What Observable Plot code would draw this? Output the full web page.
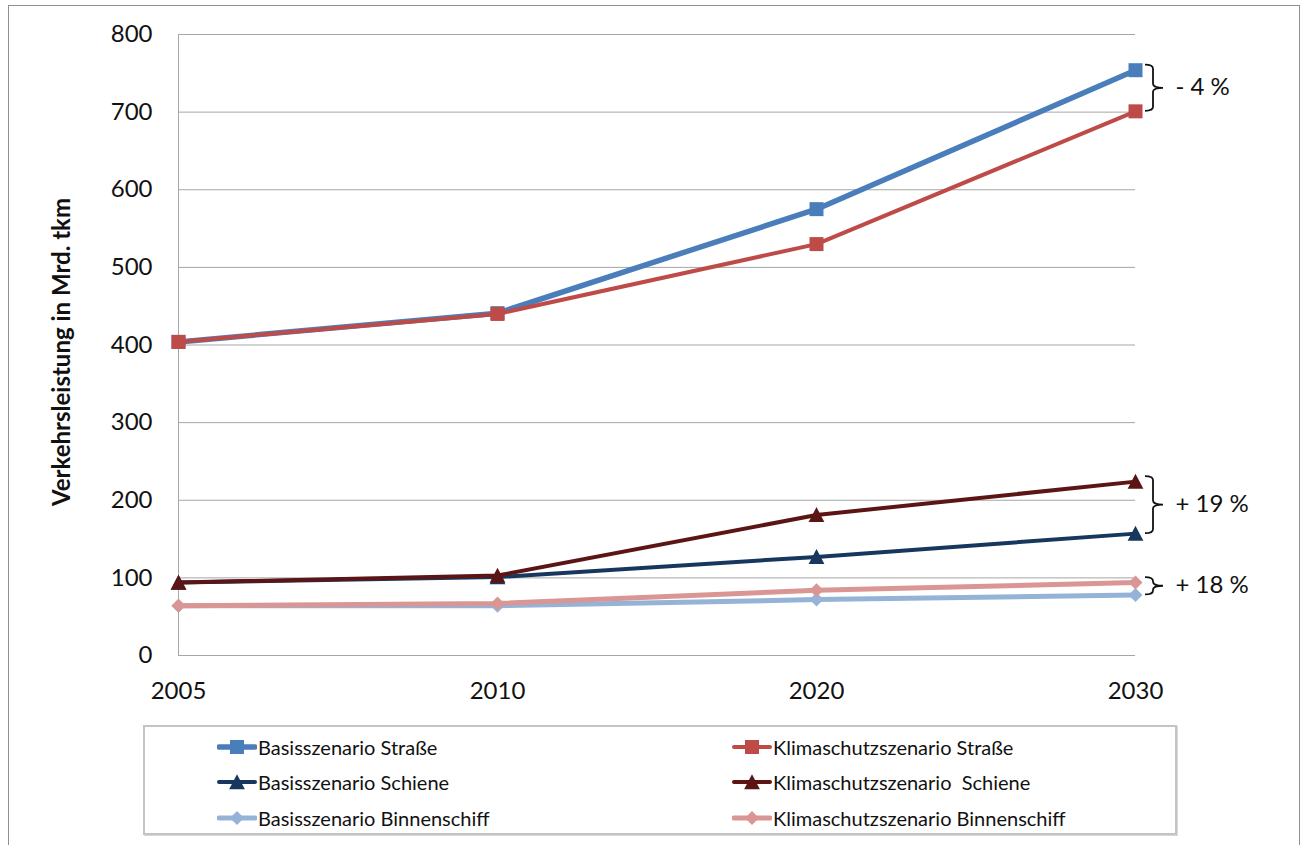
<!DOCTYPE html>
<html>
<head>
<meta charset="utf-8">
<script src="https://cdn.jsdelivr.net/npm/d3@7"></script>
<script src="https://cdn.jsdelivr.net/npm/@observablehq/plot@0.6"></script>
<style>
  html, body { margin: 0; padding: 0; background: #fff; }
  body { width: 1302px; height: 845px; position: relative; overflow: hidden; font-family: Lato, "Open Sans", sans-serif; }
  #frame { position: absolute; left: 8px; top: 5px; width: 1292px; height: 900px; border: 1.5px solid #8f8f8f; box-sizing: border-box; }
  #chart { position: absolute; left: 0; top: 0; }
  #ylabel { position: absolute; left: 60px; top: 352px; transform: translate(-50%, -50%) rotate(-90deg); font-weight: bold; font-size: 24px; color: #111; white-space: nowrap; }
  #legend { position: absolute; left: 143px; top: 725px; width: 1034px; height: 110px; border: 2px solid #c4c4c4; box-sizing: border-box; box-shadow: 1px 1px 0 #d8d8d8; background: #fff; }
  .item { position: absolute; display: flex; align-items: center; font-size: 20px; color: #111; white-space: pre; height: 24px; }
  .item svg { display: block; margin-right: 1px; }
</style>
</head>
<body>
<div id="frame"></div>
<div id="chart"></div>
<div id="ylabel"></div>
<div id="legend"></div>
<script>
// ---- data ----
const years = ["2005", "2010", "2020", "2030"];
const yTicks = [0, 100, 200, 300, 400, 500, 600, 700, 800];
const basisStrasse = [404, 441, 575, 754];
const klimaStrasse = [404, 440, 530, 701];
const basisSchiene = [94, 101, 127, 157];
const klimaSchiene = [94, 103, 181, 224];
const basisBinnen = [64, 64, 72, 78];
const klimaBinnen = [64, 67, 84, 94];
const seriesNames = ["Basisszenario Straße", "Klimaschutzszenario Straße", "Basisszenario Schiene", "Klimaschutzszenario  Schiene", "Basisszenario Binnenschiff", "Klimaschutzszenario Binnenschiff"];
const annotationLabels = ["- 4 %", "+ 19 %", "+ 18 %"];
const yLabel = "Verkehrsleistung in Mrd. tkm";

// ---- symbols ----
const sym = {
  square: { draw(ctx, size) { const h = Math.sqrt(size / Math.PI); ctx.moveTo(-h, -h); ctx.lineTo(h, -h); ctx.lineTo(h, h); ctx.lineTo(-h, h); ctx.closePath(); } },
  triangle: { draw(ctx, size) { const h = Math.sqrt(size / Math.PI); ctx.moveTo(0, -h * 1.05); ctx.lineTo(h * 1.05, h * 0.95); ctx.lineTo(-h * 1.05, h * 0.95); ctx.closePath(); } },
  diamond: { draw(ctx, size) { const h = Math.sqrt(size / Math.PI); ctx.moveTo(0, -h); ctx.lineTo(h, 0); ctx.lineTo(0, h); ctx.lineTo(-h, 0); ctx.closePath(); } }
};

const seriesValues = [basisStrasse, klimaStrasse, basisSchiene, klimaSchiene, basisBinnen, klimaBinnen];
const seriesStyle = [
  { color: "#4A7EBB", width: 5.5, symbol: "square", r: 7 },
  { color: "#BE4B48", width: 4, symbol: "square", r: 7 },
  { color: "#17375E", width: 4, symbol: "triangle", r: 7.5 },
  { color: "#5C1515", width: 4, symbol: "triangle", r: 7.5 },
  { color: "#95B3D7", width: 5, symbol: "diamond", r: 7 },
  { color: "#D99694", width: 5, symbol: "diamond", r: 7 }
];

const rows = seriesNames.map((name, i) => years.map((year, j) => ({ name, year, value: seriesValues[i][j] })));

const annotations = [
  { label: annotationLabels[0], hi: basisStrasse[3], lo: klimaStrasse[3] },
  { label: annotationLabels[1], hi: klimaSchiene[3], lo: basisSchiene[3] },
  { label: annotationLabels[2], hi: klimaBinnen[3], lo: basisBinnen[3] }
];

const lastYear = years[years.length - 1];

function braces(index, scales) {
  const g = d3.create("svg:g");
  const X = scales.x(lastYear);
  for (const a of annotations) {
    const y0 = scales.y(a.hi) - 5, y1 = scales.y(a.lo) + 0;
    const ym = (y0 + y1) / 2;
    const x0 = X + 10, x1 = X + 18, x2 = X + 28;
    const r = Math.min(4, (y1 - y0) / 4);
    const p = d3.path();
    p.moveTo(x0, y0);
    p.quadraticCurveTo(x1, y0, x1, y0 + r);
    p.lineTo(x1, ym - r);
    p.quadraticCurveTo(x1, ym, x2, ym);
    p.quadraticCurveTo(x1, ym, x1, ym + r);
    p.lineTo(x1, y1 - r);
    p.quadraticCurveTo(x1, y1, x0, y1);
    g.append("path").attr("d", p.toString()).attr("fill", "none").attr("stroke", "#111").attr("stroke-width", 1.8);
  }
  return g.node();
}

const marks = [
  Plot.ruleY(yTicks, { y: d => d, stroke: "#a6a6a6", strokeWidth: 1 }),
  Plot.ruleX([years[0]], { x: d => d, stroke: "#a6a6a6", strokeWidth: 1 }),
  Plot.axisY({ ticks: yTicks, tickSize: 0, tickPadding: 26, label: null, fontSize: 24 }),
  Plot.axisX({ tickSize: 0, tickPadding: 26, label: null, fontSize: 24 })
];
rows.forEach((data, i) => {
  const s = seriesStyle[i];
  marks.push(Plot.line(data, { x: "year", y: "value", stroke: s.color, strokeWidth: s.width }));
  marks.push(Plot.dot(data, { x: "year", y: "value", symbol: sym[s.symbol], r: s.r, fill: s.color, stroke: "none" }));
});
marks.push(braces);
marks.push(Plot.text(annotations, { x: () => lastYear, y: d => (d.hi + d.lo) / 2, text: "label", dx: 40, dy: -3, textAnchor: "start", fontSize: 24, fill: "#111" }));

const plot = Plot.plot({
  width: 1302,
  height: 712,
  marginLeft: 178,
  marginRight: 167,
  marginTop: 34,
  marginBottom: 57,
  style: { fontFamily: "Lato, 'Open Sans', sans-serif", fontSize: "24px", color: "#111", background: "transparent" },
  x: { type: "point", domain: years, padding: 0 },
  y: { domain: [0, 800] },
  marks
});
document.getElementById("chart").appendChild(plot);
document.getElementById("ylabel").textContent = yLabel;

// ---- legend ----
const legend = document.getElementById("legend");
const legendPos = [[72, 8], [587, 8], [72, 43], [587, 43], [72, 79], [587, 79]];
seriesNames.forEach((name, i) => {
  const s = seriesStyle[i];
  const div = document.createElement("div");
  div.className = "item";
  div.style.left = legendPos[i][0] + "px";
  div.style.top = legendPos[i][1] + "px";
  const svg = d3.create("svg").attr("width", 40).attr("height", 24);
  svg.append("line").attr("x1", 2).attr("x2", 38).attr("y1", 12).attr("y2", 12).attr("stroke", s.color).attr("stroke-width", s.width).attr("stroke-linecap", "round");
  const p = d3.path();
  sym[s.symbol].draw(p, s.r * s.r * Math.PI);
  svg.append("path").attr("d", p.toString()).attr("transform", "translate(20,12)").attr("fill", s.color);
  div.appendChild(svg.node());
  const t = document.createElement("span");
  t.textContent = name;
  div.appendChild(t);
  legend.appendChild(div);
});
</script>
</body>
</html>
